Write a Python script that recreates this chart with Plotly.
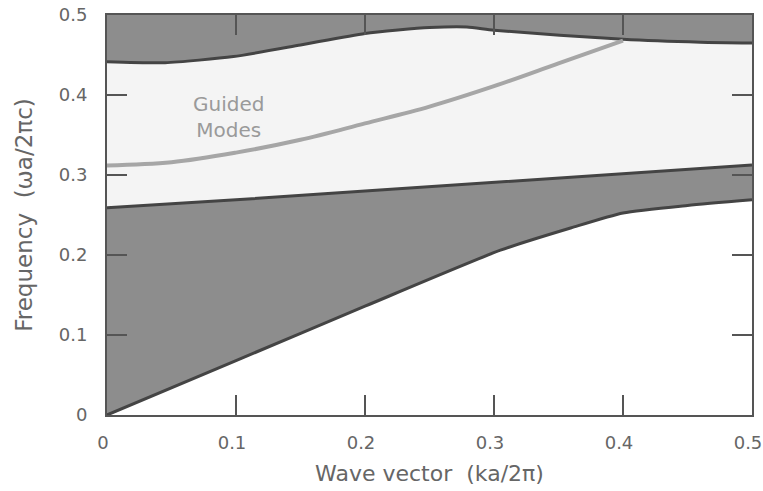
import plotly.graph_objects as go

# Light cone (lower boundary of the shaded continuum below the light line)
k_cone = [0, 0.1, 0.2, 0.305, 0.36, 0.4, 0.45, 0.5]
f_cone = [0, 0.068, 0.136, 0.206, 0.234, 0.2525, 0.262, 0.269]

# Lower edge of the gap region (top of lower dark continuum)
k_low = [0, 0.1, 0.2, 0.3, 0.4, 0.5]
f_low = [0.259, 0.269, 0.28, 0.291, 0.302, 0.3125]

# Upper band edge
k_up = [0, 0.045, 0.098, 0.15, 0.2, 0.25, 0.279, 0.3, 0.4, 0.46, 0.5]
f_up = [0.4416, 0.4404, 0.448, 0.4625, 0.477, 0.4843, 0.4851, 0.481, 0.4696, 0.466, 0.465]

# Guided mode
k_guide = [0, 0.05, 0.1, 0.15, 0.2, 0.25, 0.3, 0.35, 0.4]
f_guide = [0.312, 0.316, 0.328, 0.344, 0.3645, 0.3855, 0.411, 0.4395, 0.468]

k_top = [0, 0.5]
f_top = [0.5, 0.5]

x_ticks = [0, 0.1, 0.2, 0.3, 0.4, 0.5]
x_labels = ["0", "0.1", "0.2", "0.3", "0.4", "0.5"]
y_ticks = [0, 0.1, 0.2, 0.3, 0.4, 0.5]
y_labels = ["0", "0.1", "0.2", "0.3", "0.4", "0.5"]

DARK = "#8d8d8d"
LIGHT = "#f4f4f4"
EDGE = "#444444"
FONT = "DejaVu Sans"

fig = go.Figure()
fig.add_trace(go.Scatter(x=k_cone, y=f_cone, mode="lines", line=dict(width=0, shape="spline", smoothing=0.6),
                         hoverinfo="skip", showlegend=False))
fig.add_trace(go.Scatter(x=k_low, y=f_low, mode="lines", line=dict(width=0),
                         fill="tonexty", fillcolor=DARK, hoverinfo="skip", showlegend=False))
fig.add_trace(go.Scatter(x=k_up, y=f_up, mode="lines", line=dict(width=0, shape="spline", smoothing=0.6),
                         fill="tonexty", fillcolor=LIGHT, hoverinfo="skip", showlegend=False))
fig.add_trace(go.Scatter(x=k_top, y=f_top, mode="lines", line=dict(width=0),
                         fill="tonexty", fillcolor=DARK, hoverinfo="skip", showlegend=False))

# edge lines
fig.add_trace(go.Scatter(x=k_cone, y=f_cone, mode="lines",
                         line=dict(color=EDGE, width=3, shape="spline", smoothing=0.6), showlegend=False))
fig.add_trace(go.Scatter(x=k_low, y=f_low, mode="lines", line=dict(color=EDGE, width=3),
                         showlegend=False))
fig.add_trace(go.Scatter(x=k_up, y=f_up, mode="lines",
                         line=dict(color=EDGE, width=3, shape="spline", smoothing=0.6), showlegend=False))
fig.add_trace(go.Scatter(x=k_guide, y=f_guide, mode="lines",
                         line=dict(color="#a6a6a6", width=4, shape="spline", smoothing=1.0), showlegend=False))

fig.add_annotation(x=0.094, y=0.3725, xref="x", yref="y", text="Guided<br>Modes", showarrow=False,
                   font=dict(family=FONT, size=20, color="#9a9a9a"), align="center")

axis_common = dict(showgrid=False, zeroline=False, showline=True, linecolor="#555555", linewidth=2,
                   mirror="ticks", ticks="inside", ticklen=20, tickwidth=2, tickcolor="#555555",
                   ticklabeloverflow="allow", automargin=False,
                   tickfont=dict(family=FONT, size=18, color="#666666"))

fig.update_xaxes(range=[0, 0.5], tickvals=x_ticks, ticktext=x_labels,
                 title=dict(text="Wave vector  (ka/2π)", font=dict(family=FONT, size=22, color="#666666"),
                            standoff=14),
                 ticklabelstandoff=10, ticklabelshift=-4, **axis_common)
fig.update_yaxes(range=[0, 0.5], tickvals=y_ticks, ticktext=y_labels,
                 title=dict(text="Frequency  (ωa/2πc)", font=dict(family=FONT, size=23, color="#666666"),
                            standoff=20),
                 ticklabelstandoff=14, **axis_common)

fig.update_layout(width=763, height=491, margin=dict(l=107, r=11, t=15, b=76),
                  plot_bgcolor="white", paper_bgcolor="white")

fig.write_html("out.html")
